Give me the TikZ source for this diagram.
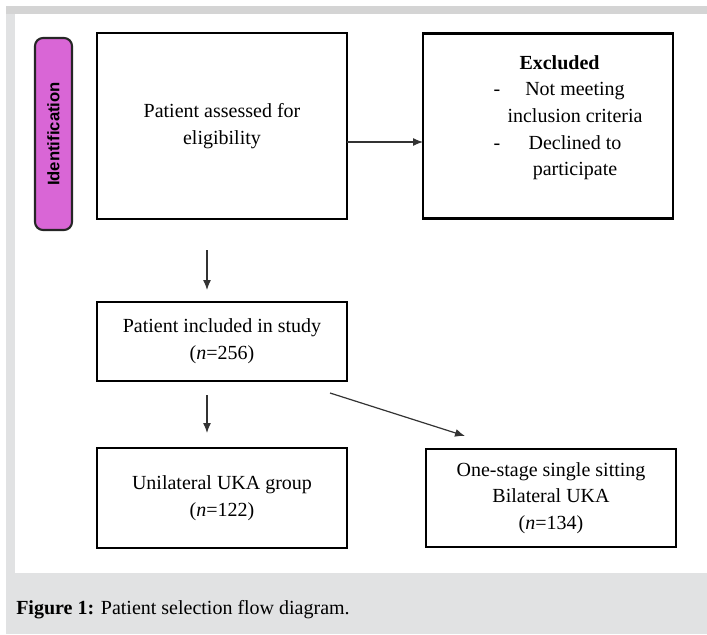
\documentclass[tikz,border=0pt]{standalone}
\usepackage{fontspec}
\setmainfont{Liberation Serif}
\setsansfont{Liberation Sans}
\usepackage{graphicx}
\usetikzlibrary{arrows.meta,positioning,calc}
\definecolor{pillpink}{RGB}{217,102,214}
\definecolor{framegray}{RGB}{225,226,227}
\definecolor{topgray}{RGB}{212,212,212}

\begin{document}
\begin{tikzpicture}[
  node distance=50pt,
  every node/.style={font=\fontsize{15}{20}\selectfont},
  box/.style={rectangle, draw, line width=2pt, outer sep=0pt, minimum width=187.5pt, align=center},
  phase/.style={rectangle, rounded corners=6pt, draw=black!85, line width=1.6pt, fill=pillpink, minimum width=27.75pt, minimum height=144pt, outer sep=0pt, inner sep=0pt},
  flow/.style={-{Latex[length=7.5pt,width=6pt]}, line width=0.9pt, draw=black!80},
  >=Stealth
]
  % page frame and caption band
  \useasboundingbox (0,0) rectangle (530.25pt,-476.25pt);
  \fill[topgray] (4.5pt,-4.5pt) rectangle (530.25pt,-10.5pt);
  \fill[framegray] (4.5pt,-10.5pt) rectangle (11.25pt,-429.75pt);
  \fill[framegray] (4.5pt,-429.75pt) rectangle (530.25pt,-475.5pt);

  \node[box, minimum height=139.5pt] (assess) at (166.5pt,-94.5pt) {Patient assessed for\\eligibility};
  \node[box, minimum height=138.75pt, right=57pt of assess] (excl) {\hspace*{30pt}\begin{tabular}{@{}p{10.5pt}@{}c@{}}
    \multicolumn{2}{@{}l@{}}{\hspace{19.5pt}\textbf{Excluded}}\\
    - & Not meeting\\
      & inclusion criteria\\
    - & Declined to\\
      & participate\\[13.5pt]
  \end{tabular}};
  \node[phase, left=18.75pt of assess, yshift=-6pt] (ident) {\rotatebox{90}{\sffamily\bfseries\fontsize{12.5}{14}\selectfont Identification}};

  \node[box, minimum height=59.25pt, below=62.25pt of assess] (incl) {Patient included in study\\(\textit{n}=256)};
  \node[box, minimum height=75pt, below=50.25pt of incl] (uni) {Unilateral UKA group\\(\textit{n}=122)};
  \node[box, minimum height=73.5pt, right=59.25pt of uni] (bilat) {One-stage single sitting\\Bilateral UKA\\(\textit{n}=134)};

  \draw[flow] ([yshift=-12pt]assess.east) -- ([yshift=-12pt]excl.west);
  \draw[flow, shorten <=23.25pt, shorten >=9pt] ([xshift=-11.25pt]assess.south) -- ([xshift=-11.25pt]incl.north);
  \draw[flow, shorten <=10.5pt, shorten >=11.25pt] ([xshift=-11.25pt]incl.south) -- ([xshift=-11.25pt]uni.north);
  \draw[flow] ([shift={(-12.75pt,-9pt)}]incl.south east) -- ([shift={(29.25pt,9.75pt)}]bilat.north west);

  \node[anchor=base west, inner sep=0pt] (caption) at (12pt,-460.5pt) {\textbf{Figure 1:} Patient selection flow diagram.};
\end{tikzpicture}
\end{document}
